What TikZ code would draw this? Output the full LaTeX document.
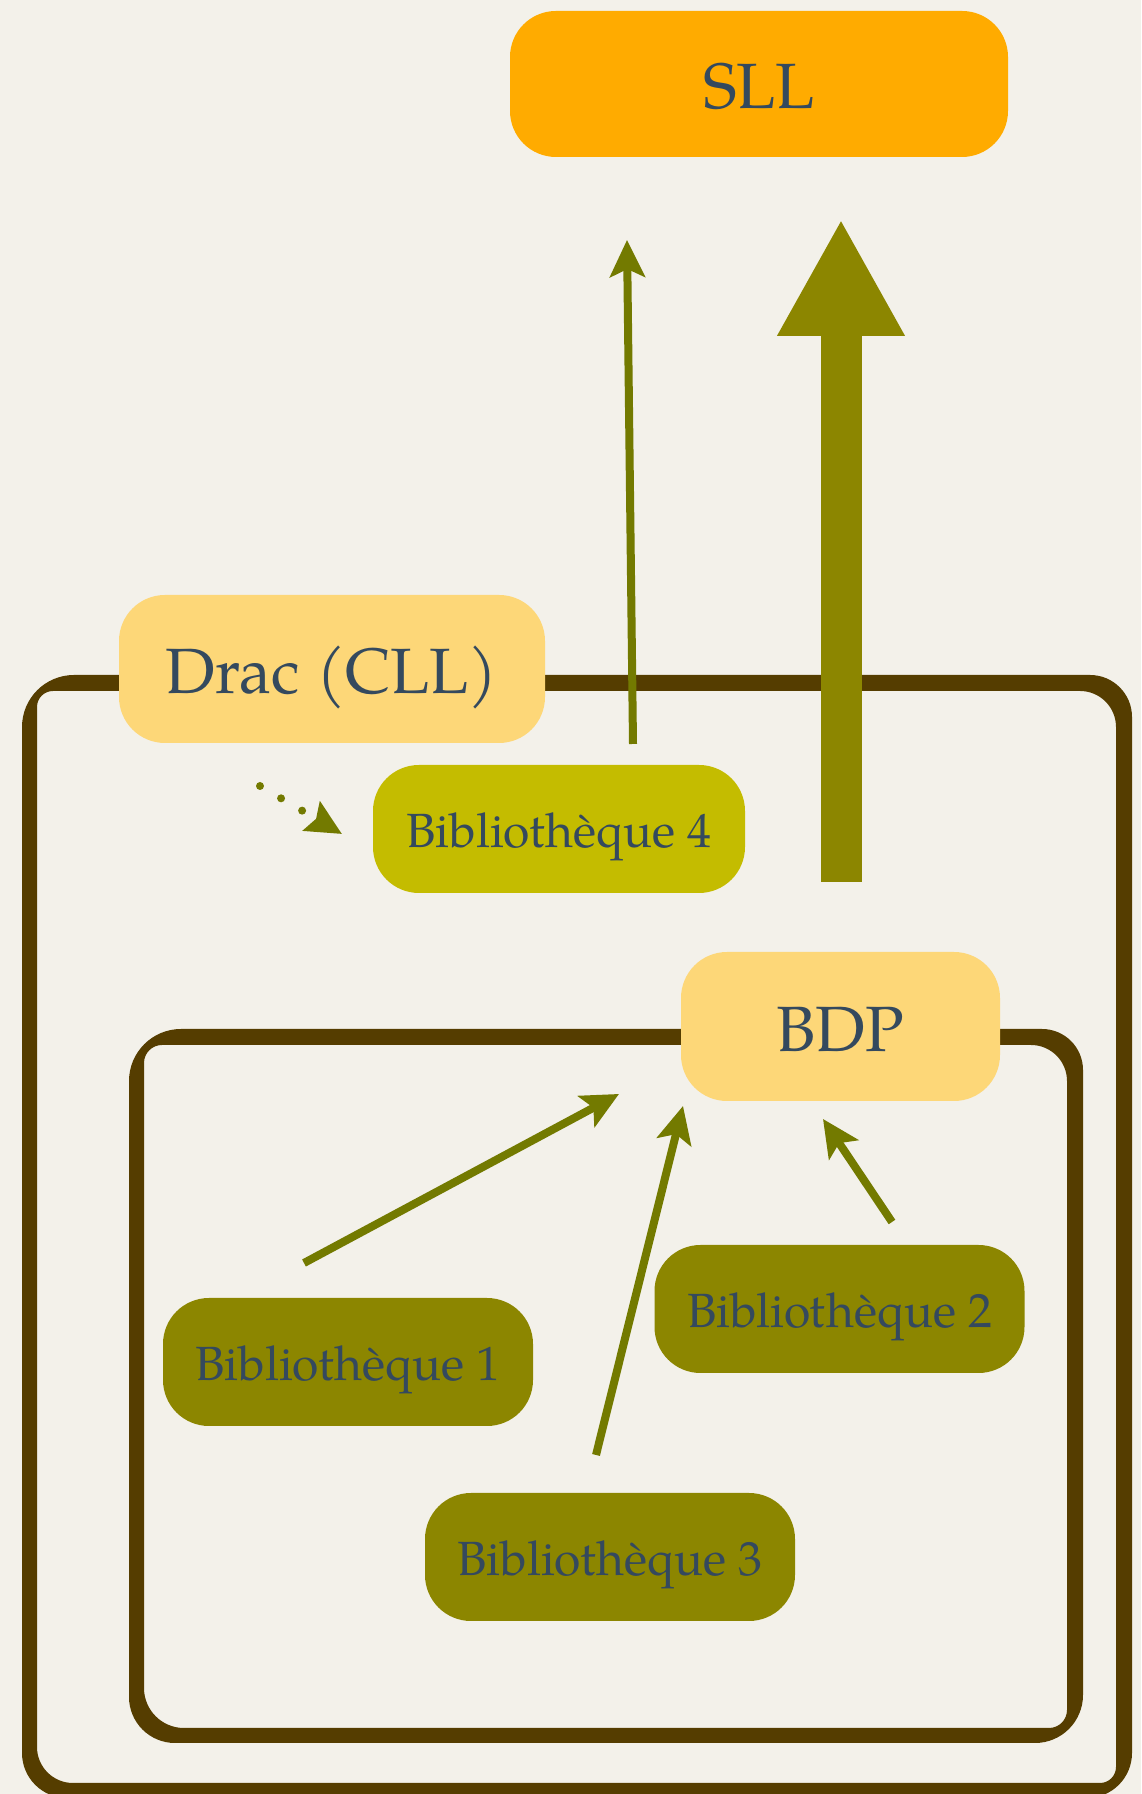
\documentclass[tikz,border=0pt]{standalone}
\usepackage{fontspec}
\setmainfont{TeX Gyre Pagella}
\usetikzlibrary{arrows.meta}
\definecolor{bgpaper}{HTML}{F3F1EA}
\definecolor{framebrown}{HTML}{553D00}
\definecolor{olivedark}{HTML}{8C8600}
\definecolor{olivethin}{HTML}{737A00}
\definecolor{olivelight}{HTML}{C4BC00}
\definecolor{paleyellow}{HTML}{FDD778}
\definecolor{sllorange}{HTML}{FFAB00}
\definecolor{textblue}{HTML}{34495E}
\tikzset{
  box/.style={rounded corners=46pt, inner sep=0pt, text=textblue,
    text depth=0pt, align=center},
  bigbox/.style={box, font=\fontsize{64}{70}\selectfont, text height=50pt},
  libbox/.style={box, font=\fontsize{48}{54}\selectfont, text height=37.5pt,
    minimum width=370pt, minimum height=128pt},
  thinarrow/.style={draw=olivethin, line width=8pt,
    -{Stealth[length=37pt,width=35pt,inset=8pt]}},
}
\begin{document}
\begin{tikzpicture}[x=1pt,y=1pt]
\useasboundingbox (0,0) rectangle (1141,1794);
\fill[bgpaper] (0,0) rectangle (1141,1794);
% outer frame (big box)
\fill[framebrown, even odd rule]
  (22+45,-4) -- (1132-45,-4) arc[start angle=-90,end angle=0,radius=45pt]
  -- (1132,1119-42) arc[start angle=0,end angle=90,radius=42pt]
  -- (22+52,1119) arc[start angle=90,end angle=180,radius=52pt]
  -- (22,-4+45) arc[start angle=180,end angle=270,radius=45pt] -- cycle
  (37+36,11) -- (1116-16,11) arc[start angle=-90,end angle=0,radius=16pt]
  -- (1116,1103-36) arc[start angle=0,end angle=90,radius=36pt]
  -- (37+16,1103) arc[start angle=90,end angle=180,radius=16pt]
  -- (37,11+36) arc[start angle=180,end angle=270,radius=36pt] -- cycle;
% inner frame
\fill[framebrown, even odd rule]
  (129+46,51) -- (1083-48,51) arc[start angle=-90,end angle=0,radius=48pt]
  -- (1083,765-41) arc[start angle=0,end angle=90,radius=41pt]
  -- (129+52,765) arc[start angle=90,end angle=180,radius=52pt]
  -- (129,51+46) arc[start angle=180,end angle=270,radius=46pt] -- cycle
  (144+40,66) -- (1067-18,66) arc[start angle=-90,end angle=0,radius=18pt]
  -- (1067,749-36) arc[start angle=0,end angle=90,radius=36pt]
  -- (144+18,749) arc[start angle=90,end angle=180,radius=18pt]
  -- (144,66+40) arc[start angle=180,end angle=270,radius=40pt] -- cycle;
% nodes
\node[bigbox, fill=sllorange, minimum width=498pt, minimum height=146pt] (sll) at (759,1710) {SLL};
\node[bigbox, fill=paleyellow, minimum width=426pt, minimum height=148pt] (drac) at (332,1125) {Drac (CLL)};
\node[bigbox, fill=paleyellow, minimum width=319pt, minimum height=149pt] (bdp) at (840.5,767.5) {BDP};
\node[libbox, fill=olivelight, minimum width=372pt] (bib4) at (559,965) {Bibliothèque 4};
\node[libbox, fill=olivedark] (bib1) at (348,432) {Bibliothèque 1};
\node[libbox, fill=olivedark] (bib2) at (839.5,485) {Bibliothèque 2};
\node[libbox, fill=olivedark] (bib3) at (610,237) {Bibliothèque 3};
% connector end points
\coordinate (b4start) at (633,1050);
\coordinate (sllin) at (627,1554);
\coordinate (bigstart) at (841,912);
\coordinate (bigtip) at (841,1575);
\coordinate (b1start) at (304,531);
\coordinate (b1tip) at (619,700);
\coordinate (b3start) at (596,339);
\coordinate (b3tip) at (683,688);
\coordinate (b2start) at (892,572);
\coordinate (b2tip) at (823,675);
\coordinate (dracout) at (260,1008);
\coordinate (b4in) at (342,960);
% connectors
\draw[thinarrow] (b4start) -- (sllin);
\draw[draw=olivedark, line width=41pt, -{Triangle[length=117pt,width=119pt]}] (bigstart) -- (bigtip);
\draw[thinarrow] (b1start) -- (b1tip);
\draw[thinarrow] (b3start) -- (b3tip);
\draw[thinarrow] (b2start) -- (b2tip);
\draw[draw=olivethin, line width=8pt, line cap=round, dash pattern=on 0pt off 24.4pt,
  -{Stealth[length=35pt,width=33pt,inset=5pt]}] (dracout) -- (b4in);
\end{tikzpicture}
\end{document}
